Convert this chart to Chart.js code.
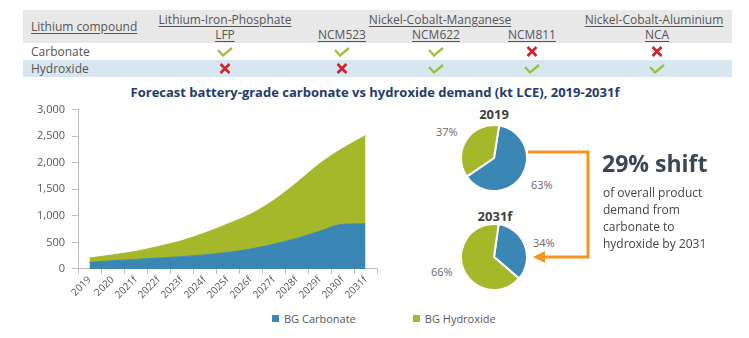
<!DOCTYPE html>
<html lang="en">
<head>
<meta charset="UTF-8">
<title>Battery-grade carbonate vs hydroxide demand</title>
<script src="https://cdn.jsdelivr.net/npm/chart.js"></script>
<style>
    body { margin: 0; width: 749px; height: 338px; background: #fff; font-family: 'Open Sans', sans-serif; color: #505050; position: relative; overflow: hidden; }
    .abs { position: absolute; white-space: nowrap; }
    .band { position: absolute; left: 23px; width: 709px; }
    .u { text-decoration: underline; text-underline-offset: 2px; }
    .c { transform: translateX(-50%); }
    .hdr { font-size: 12px; line-height: 14px; color: #555; }
    .title { font-size: 13px; font-weight: bold; color: #1f3c6b; }
    .pieT { font-size: 13px; font-weight: bold; color: #3f3f3f; }
    .pct { font-size: 11px; color: #6a6a6a; }
    .shift { font-size: 23px; font-weight: bold; color: #3b4757; }
    .note { font-size: 12px; line-height: 17px; color: #454545; }
    .leg { font-size: 11px; color: #595959; display: flex; align-items: center; }
    .leg span.sw { display: inline-block; width: 7px; height: 7px; margin-right: 5px; }
</style>
</head>
<body>
    <!-- table -->
    <div class="band" style="top:10px;height:33px;background:#e8e8e8;"></div>
    <div class="band" style="top:60px;height:17px;background:#d8e7ef;"></div>
    <div id="table"></div>

    <div class="abs title" style="left:375px;top:83px;transform:translateX(-50%);">Forecast battery-grade carbonate vs hydroxide demand (kt LCE), 2019-2031f</div>

    <div class="abs" style="left:0;top:96px;"><canvas id="areaChart" width="400" height="205"></canvas></div>
    <div id="legend" class="abs" style="left:272px;top:311px;display:flex;"></div>

    <div class="abs pieT c" style="left:494px;top:105px;">2019</div>
    <div class="abs" style="left:460px;top:124px;"><canvas id="pie2019" width="68" height="68"></canvas></div>
    <div class="abs pieT c" style="left:495px;top:207px;">2031f</div>
    <div class="abs" style="left:460px;top:223px;"><canvas id="pie2031" width="68" height="68"></canvas></div>
    <div id="pieLabels"></div>

    <svg class="abs" style="left:0;top:0;" width="749" height="338">
        <polyline points="528,152 588,152 588,257 542,257" fill="none" stroke="#f7941d" stroke-width="3"/>
        <polygon points="533,257 545,251 545,263" fill="#f7941d"/>
    </svg>

    <div class="abs shift" style="left:602px;top:147px;">29% shift</div>
    <div class="abs note" style="left:603px;top:184px;">of overall product<br>demand from<br>carbonate to<br>hydroxide by 2031</div>

<script>
// table content
const compounds = ['Carbonate', 'Hydroxide'];
const groups = [
    { name: 'Lithium-Iron-Phosphate', x: 225 },
    { name: 'Nickel-Cobalt-Manganese', x: 440 },
    { name: 'Nickel-Cobalt-Aluminium', x: 654 }
];
const chemistries = ['LFP', 'NCM523', 'NCM622', 'NCM811', 'NCA'];
const chemX = [225, 342, 436, 532, 657];
const suitCarbonate = [true, true, true, false, false];
const suitHydroxide = [false, false, true, true, true];

// area chart data (kt LCE)
const years = ['2019', '2020', '2021f', '2022f', '2023f', '2024f', '2025f', '2026f', '2027f', '2028f', '2029f', '2030f', '2031f'];
const bgCarbonate = [125, 155, 180, 205, 230, 265, 310, 375, 465, 575, 710, 840, 850];
const bgHydroxide = [80, 110, 150, 220, 300, 410, 535, 655, 825, 1045, 1270, 1430, 1660];
const yTicks = [0, 500, 1000, 1500, 2000, 2500, 3000];

// pie shares (%): carbonate, hydroxide
const share2019 = [63, 37];
const share2031 = [34, 66];

const BLUE = '#3a87b6';
const GREEN = '#a5b82a';

const CHECK = '<svg width="16" height="10"><polyline points="1,3 6,8.5 15,1" fill="none" stroke="#a0bf3e" stroke-width="2.3"/></svg>';
const CROSS = '<svg width="11" height="11"><path d="M1,1 L10,10 M10,1 L1,10" stroke="#d3202a" stroke-width="2.6"/></svg>';

let html = '';
html += `<div class="abs hdr u" style="left:31px;top:20px;">Lithium compound</div>`;
groups.forEach(g => {
    html += `<div class="abs hdr u c" style="left:${g.x}px;top:13px;">${g.name}</div>`;
});
chemistries.forEach((c, i) => {
    html += `<div class="abs hdr u c" style="left:${chemX[i]}px;top:28px;">${c}</div>`;
});
compounds.forEach((c, r) => {
    const top = 43 + r * 17;
    html += `<div class="abs hdr" style="left:31px;top:${top + 2}px;">${c}</div>`;
    const suit = r === 0 ? suitCarbonate : suitHydroxide;
    suit.forEach((s, i) => {
        html += `<div class="abs c" style="left:${chemX[i]}px;top:${top + (s ? 4 : 3)}px;line-height:0;">${s ? CHECK : CROSS}</div>`;
    });
});
document.getElementById('table').innerHTML = html;

const areaChart = new Chart(document.getElementById('areaChart'), {
    type: 'line',
    data: {
        labels: years,
        datasets: [
            { label: 'BG Carbonate', data: bgCarbonate, backgroundColor: BLUE, borderColor: BLUE, borderWidth: 1, fill: 'origin', pointRadius: 0, cubicInterpolationMode: 'monotone' },
            { label: 'BG Hydroxide', data: bgHydroxide, backgroundColor: GREEN, borderColor: GREEN, borderWidth: 1, fill: '-1', pointRadius: 0, cubicInterpolationMode: 'monotone' }
        ]
    },
    options: {
        responsive: false,
        animation: false,
        layout: { padding: { left: 30, right: 23, top: 6, bottom: 0 } },
        plugins: { legend: { display: false }, tooltip: { enabled: false } },
        scales: {
            x: {
                offset: true,
                grid: { offset: true, drawOnChartArea: false, tickLength: 5, color: '#bfbfbf' },
                border: { color: '#bfbfbf' },
                ticks: { minRotation: 45, maxRotation: 45, padding: 0, color: '#595959', font: { family: 'Open Sans', size: 10 } }
            },
            y: {
                stacked: true,
                min: 0, max: 3000,
                afterBuildTicks: s => { s.ticks = yTicks.map(v => ({ value: v })); },
                grid: { drawOnChartArea: false, tickLength: 6, color: '#bfbfbf' },
                border: { color: '#bfbfbf' },
                ticks: { padding: 7, color: '#595959', font: { family: 'Open Sans', size: 11 }, callback: v => v.toLocaleString('en-US') }
            }
        }
    }
});

// legend built from the datasets
document.getElementById('legend').innerHTML = areaChart.data.datasets.map((d, i) =>
    `<div class="leg" style="margin-right:${i === 0 ? 57 : 0}px;"><span class="sw" style="background:${d.backgroundColor}"></span>${d.label}</div>`
).join('');

function makePie(id, data, rotation) {
    new Chart(document.getElementById(id), {
        type: 'pie',
        data: {
            labels: ['BG Carbonate', 'BG Hydroxide'],
            datasets: [{ data: data, backgroundColor: [BLUE, GREEN], borderColor: '#fff', borderWidth: 2 }]
        },
        options: {
            responsive: false,
            animation: false,
            rotation: rotation,
            plugins: { legend: { display: false }, tooltip: { enabled: false } }
        }
    });
}
makePie('pie2019', share2019, 9);
makePie('pie2031', share2031, 8);

document.getElementById('pieLabels').innerHTML =
    `<div class="abs pct" style="left:436px;top:124px;">${share2019[1]}%</div>` +
    `<div class="abs pct" style="left:531px;top:177px;">${share2019[0]}%</div>` +
    `<div class="abs pct" style="left:533px;top:235px;">${share2031[0]}%</div>` +
    `<div class="abs pct" style="left:431px;top:264px;">${share2031[1]}%</div>`;
</script>
</body>
</html>
